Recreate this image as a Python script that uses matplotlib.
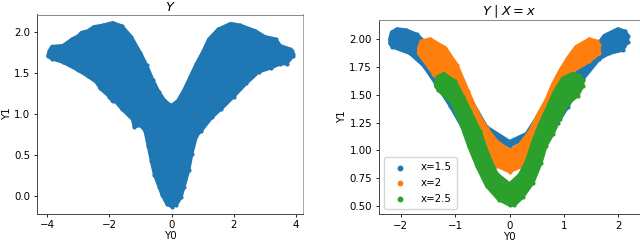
import matplotlib
matplotlib.use("Agg")
import matplotlib.pyplot as plt
import numpy as np

# left panel, outline of the point cloud
left_upper_x = [-3.97, -3.93, -3.85, -3.5, -3.2, -3, -2.9, -2.7, -2.5, -2.2, -1.9, -1.6, -1.3, -1, -0.8, -0.6, -0.4, -0.2, 0,
                0.2, 0.4, 0.6, 0.8, 1, 1.2, 1.5, 1.9, 2.2, 2.7, 3, 3.35, 3.5, 3.8, 3.88, 3.9]
left_upper_y = [1.72, 1.77, 1.82, 1.83, 1.91, 1.95, 1.99, 2.01, 2.06, 2.08, 2.11, 2.07, 1.94, 1.74, 1.59, 1.41, 1.26, 1.15, 1.1,
                1.16, 1.29, 1.45, 1.61, 1.75, 1.91, 2.03, 2.1, 2.08, 2.01, 1.94, 1.91, 1.83, 1.79, 1.77, 1.73]
left_lower_x = [-3.97, -3.85, -3.5, -3, -2.7, -2.4, -2.3, -2, -1.9, -1.9, -1.6, -1.25, -1.2, -1, -0.85, -0.75, -0.65, -0.55, -0.4, -0.3,
                -0.15, 0, 0.15, 0.3, 0.4, 0.55, 0.65, 0.8, 0.95, 1.3, 1.6, 2, 2.4, 2.8, 3.2, 3.5, 3.7, 3.9]
left_lower_y = [1.7, 1.67, 1.63, 1.53, 1.46, 1.38, 1.31, 1.21, 1.15, 1.19, 1.06, 0.93, 0.84, 0.86, 0.79, 0.61, 0.43, 0.26, 0.11, 0.01,
                -0.1, -0.13, -0.11, -0.02, 0.11, 0.31, 0.51, 0.73, 0.79, 0.96, 1.06, 1.21, 1.37, 1.51, 1.56, 1.61, 1.61, 1.7]

# right panel, outline of each x value
blue_upper_x = [-2.2, -2.17, -2.07, -1.9, -1.7, -1.0, -0.42, 0, 0.31, 0.9, 1.65, 1.74, 1.99, 2.12, 2.18]
blue_upper_y = [2.0, 2.06, 2.09, 2.08, 2.04, 1.7, 1.21, 1.08, 1.15, 1.6, 1.97, 2.03, 2.09, 2.07, 2.03]
blue_lower_x = [-2.2, -2.16, -1.83, -1.58, -1.37, -1.09, -0.88, 0, 0.89, 1.07, 1.35, 1.65, 1.83, 2.08, 2.17]
blue_lower_y = [1.96, 1.93, 1.87, 1.76, 1.61, 1.4, 1.22, 1.04, 1.25, 1.39, 1.64, 1.82, 1.87, 1.9, 1.97]

orange_upper_x = [-1.67, -1.62, -1.46, -1.18, -0.97, -0.76, -0.6, -0.42, -0.23, 0, 0.18, 0.37, 0.52, 0.67, 0.8, 0.92, 1.07, 1.22, 1.47, 1.6, 1.65]
orange_upper_y = [1.92, 1.98, 2.0, 1.92, 1.77, 1.53, 1.35, 1.2, 1.08, 1.0, 1.05, 1.17, 1.32, 1.45, 1.6, 1.71, 1.83, 1.93, 2.0, 1.98, 1.95]
orange_lower_x = [-1.67, -1.4, -1.0, -0.42, -0.23, 0, 0.24, 0.8, 1.16, 1.47, 1.65]
orange_lower_y = [1.87, 1.69, 1.39, 1.03, 0.86, 0.81, 0.86, 1.31, 1.71, 1.8, 1.87]

green_upper_x = [-1.36, -1.33, -1.21, -1.0, -0.85, -0.72, -0.54, -0.39, -0.23, 0, 0.18, 0.31, 0.43, 0.55, 0.7, 0.83, 0.98, 1.16, 1.3, 1.35]
green_upper_y = [1.6, 1.66, 1.69, 1.62, 1.48, 1.35, 1.17, 0.96, 0.79, 0.7, 0.78, 0.9, 1.08, 1.23, 1.39, 1.53, 1.65, 1.69, 1.67, 1.63]
green_lower_x = [-1.36, -1.31, -1.06, -0.88, -0.75, -0.6, -0.42, -0.2, 0, 0.09, 0.24, 0.43, 0.58, 0.67, 0.8, 0.92, 1.07, 1.25, 1.35]
green_lower_y = [1.58, 1.54, 1.43, 1.22, 1.04, 0.86, 0.68, 0.56, 0.51, 0.51, 0.58, 0.71, 0.89, 1.04, 1.15, 1.28, 1.42, 1.49, 1.58]

W, H = 640, 241
SIZE = 9
plt.rcParams["font.size"] = 7.4
plt.rcParams["axes.linewidth"] = 0.7
plt.rcParams["xtick.major.size"] = 2.5
plt.rcParams["ytick.major.size"] = 2.5
plt.rcParams["xtick.major.width"] = 0.6
plt.rcParams["ytick.major.width"] = 0.6
plt.rcParams["xtick.major.pad"] = 2.2
plt.rcParams["ytick.major.pad"] = 2.5


def draw_band(ax, up_x, up_y, low_x, low_y, color, label=None):
    xs = np.r_[up_x, low_x[::-1]]
    ys = np.r_[up_y, low_y[::-1]]
    ax.fill(xs, ys, facecolor=color, edgecolor=color, linewidth=2.4, joinstyle="round")
    ax.scatter(xs, ys, s=SIZE, color=color, linewidths=0, label=label)


def style_spines(ax):
    ax.spines["top"].set_color("#888888")
    ax.spines["right"].set_color("#aaaaaa")
    ax.spines["left"].set_color("#444444")
    ax.spines["bottom"].set_color("#444444")


fig = plt.figure(figsize=(W / 100, H / 100), dpi=100)

ax1 = fig.add_axes([37 / W, 1 - 213.5 / H, 266 / W, 199 / H])
draw_band(ax1, left_upper_x, left_upper_y, left_lower_x, left_lower_y, "#1f77b4")
ax1.set_xlim(-4.33, 4.23)
ax1.set_ylim(-0.215, 2.21)
ax1.set_xticks([-4, -2, 0, 2, 4])
ax1.set_yticks([0, 0.5, 1, 1.5, 2])
ax1.set_title("$Y$", fontsize=9.4, pad=1.5)
ax1.set_xlabel("Y0", labelpad=0.8)
ax1.set_ylabel("Y1", labelpad=1)
style_spines(ax1)

ax2 = fig.add_axes([379 / W, 1 - 214 / H, 260.5 / W, 194 / H])
draw_band(ax2, blue_upper_x, blue_upper_y, blue_lower_x, blue_lower_y, "#1f77b4", "x=1.5")
draw_band(ax2, orange_upper_x, orange_upper_y, orange_lower_x, orange_lower_y, "#ff7f0e", "x=2")
draw_band(ax2, green_upper_x, green_upper_y, green_lower_x, green_lower_y, "#2ca02c", "x=2.5")
ax2.set_xlim(-2.4, 2.39)
ax2.set_ylim(0.43, 2.17)
ax2.set_xticks([-2, -1, 0, 1, 2])
ax2.set_yticks([0.5, 0.75, 1, 1.25, 1.5, 1.75, 2])
ax2.set_yticklabels(["0.50", "0.75", "1.00", "1.25", "1.50", "1.75", "2.00"])
ax2.set_title("$Y \\mid X = x$", fontsize=9.4, pad=2)
ax2.set_xlabel("Y0", labelpad=0.8)
ax2.set_ylabel("Y1", labelpad=2)
ax2.legend(loc="lower left", fontsize=7.4, markerscale=1.4, borderpad=0.5,
           labelspacing=0.55, handletextpad=1.1)
style_spines(ax2)

fig.savefig("out.png", dpi=100)
